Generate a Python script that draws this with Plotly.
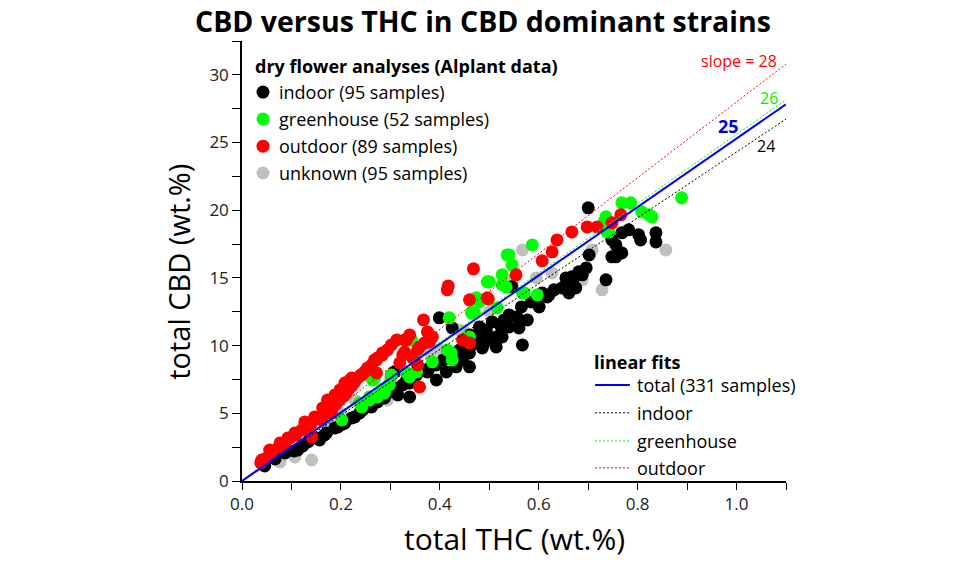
import plotly.graph_objects as go

# ---------------- data ----------------
outdoor_thc = [0.038,0.040,0.050,0.056,0.060,0.075,0.077,0.087,0.093,0.097,0.107,0.109,0.121,0.127,0.127,0.139,0.141,0.147,0.149,0.161,0.161,0.163,0.169,0.173,0.175,0.181,0.183,0.188,0.190,0.198,0.198,0.202,0.206,0.208,0.208,0.212,0.216,0.218,0.222,0.222,0.228,0.234,0.240,0.242,0.248,0.252,0.254,0.262,0.268,0.272,0.272,0.274,0.284,0.284,0.294,0.302,0.313,0.319,0.325,0.329,0.329,0.333,0.339,0.345,0.355,0.355,0.359,0.359,0.367,0.369,0.375,0.379,0.385,0.415,0.417,0.446,0.460,0.460,0.468,0.496,0.498,0.554,0.607,0.627,0.637,0.667,0.698,0.718,0.748,0.766]
outdoor_cbd = [1.33,1.55,1.70,2.29,2.14,2.51,2.81,2.81,3.18,3.18,3.55,3.40,3.77,4.36,3.92,4.14,3.25,4.73,4.58,4.80,4.51,5.40,4.95,5.99,5.25,5.03,5.40,6.36,5.69,6.73,5.99,6.73,6.28,7.24,7.10,6.58,6.80,7.46,7.61,7.02,7.32,7.61,7.83,7.83,8.06,8.20,8.35,8.57,8.94,8.94,7.98,9.09,9.46,9.31,9.68,10.05,10.42,8.72,9.31,10.42,9.53,10.42,10.79,9.09,9.68,8.57,9.90,6.95,11.90,10.20,11.01,10.27,10.64,14.12,14.41,10.42,10.20,13.38,15.67,13.53,13.45,15.23,16.26,16.93,17.81,18.40,18.77,18.77,19.07,19.66]

greenhouse_thc = [0.202,0.238,0.242,0.258,0.258,0.264,0.268,0.274,0.282,0.288,0.298,0.302,0.333,0.339,0.339,0.343,0.353,0.385,0.415,0.419,0.423,0.425,0.454,0.460,0.464,0.466,0.470,0.474,0.480,0.496,0.500,0.516,0.526,0.526,0.534,0.536,0.540,0.546,0.567,0.571,0.587,0.597,0.732,0.736,0.738,0.742,0.768,0.786,0.808,0.823,0.829,0.889]
greenhouse_cbd = [4.51,5.76,5.47,6.21,5.99,7.46,7.61,6.21,6.73,6.50,7.10,7.83,7.98,7.69,10.42,10.42,8.06,8.80,9.68,12.05,9.46,8.94,10.64,10.64,12.42,12.49,12.42,13.53,13.23,14.71,14.71,12.79,15.23,14.49,14.34,16.70,16.70,15.96,13.89,13.89,17.44,13.75,19.14,19.51,18.40,18.40,20.55,20.55,19.88,19.66,19.51,20.92]

indoor_thc = [0.046,0.067,0.087,0.105,0.113,0.123,0.133,0.135,0.151,0.157,0.167,0.171,0.188,0.194,0.204,0.208,0.222,0.228,0.238,0.244,0.250,0.252,0.262,0.262,0.264,0.274,0.278,0.288,0.294,0.298,0.302,0.308,0.315,0.315,0.325,0.333,0.339,0.339,0.353,0.369,0.375,0.379,0.393,0.393,0.399,0.407,0.413,0.419,0.425,0.431,0.433,0.440,0.446,0.452,0.460,0.460,0.460,0.464,0.466,0.472,0.480,0.480,0.486,0.490,0.494,0.494,0.506,0.510,0.514,0.514,0.524,0.526,0.530,0.540,0.540,0.546,0.556,0.560,0.565,0.567,0.577,0.585,0.593,0.601,0.607,0.617,0.621,0.631,0.647,0.655,0.657,0.661,0.667,0.671,0.675,0.681,0.688,0.696,0.702,0.700,0.736,0.748,0.748,0.756,0.756,0.762,0.768,0.768,0.782,0.802,0.806,0.837,0.837]
indoor_cbd = [1.11,1.63,2.07,2.22,2.29,2.59,2.88,2.96,3.18,3.03,3.40,3.55,3.92,3.99,4.21,4.29,4.66,4.73,5.03,5.25,5.54,5.47,5.91,5.47,5.76,5.84,6.13,6.13,6.87,6.58,7.83,8.06,6.87,6.36,7.10,7.46,7.24,6.21,7.83,8.13,8.06,8.35,8.57,7.46,12.05,8.94,8.06,9.16,11.31,9.46,8.43,9.68,8.94,9.83,10.79,9.46,8.43,10.05,10.20,10.42,11.38,10.94,9.83,10.20,11.16,10.64,11.75,10.42,10.64,9.90,11.38,10.64,11.90,12.27,11.38,14.34,12.12,11.31,12.86,10.05,11.90,13.23,13.23,12.86,13.89,13.60,13.75,14.12,14.26,15.00,14.71,13.89,15.08,15.00,14.26,15.45,15.23,15.74,16.70,20.18,14.86,17.81,16.56,17.44,16.56,16.93,18.33,16.85,18.55,18.18,17.81,18.33,17.66]

unknown_thc = [0.073,0.077,0.107,0.141,0.177,0.200,0.228,0.252,0.294,0.300,0.319,0.353,0.380,0.399,0.440,0.450,0.500,0.546,0.567,0.595,0.627,0.688,0.708,0.728,0.857]
unknown_cbd = [1.55,1.40,1.77,1.55,4.14,5.00,5.99,7.83,5.99,7.50,8.20,8.72,9.50,9.68,11.16,11.00,12.50,14.63,17.07,15.00,15.37,14.86,17.07,14.12,17.07]

fit_names = ["total", "indoor", "greenhouse", "outdoor"]
fit_slopes = [25.3, 24.3, 25.6, 28.0]
fit_x = [0.0, 1.1]

# ---------------- figure ----------------
fig = go.Figure()
msize = 13
groups = [
    ("unknown", unknown_thc, unknown_cbd, "#c0c0c0"),
    ("indoor", indoor_thc, indoor_cbd, "#000000"),
    ("greenhouse", greenhouse_thc, greenhouse_cbd, "#00ff00"),
    ("outdoor", outdoor_thc, outdoor_cbd, "#ff0000"),
]
for name, xs, ys, col in groups:
    fig.add_trace(go.Scatter(x=xs, y=ys, mode="markers", name=name,
                             marker=dict(size=msize, color=col, line=dict(width=0)),
                             showlegend=False, hoverinfo="x+y"))

fit_styles = {
    "total": dict(color="#0000ff", width=2, dash="solid"),
    "indoor": dict(color="#000000", width=1, dash="2px,2px"),
    "greenhouse": dict(color="#00ee00", width=1, dash="2px,2px"),
    "outdoor": dict(color="#ff0000", width=1, dash="2px,2px"),
}
for nm, s in zip(fit_names, fit_slopes):
    if nm == "total":
        continue
    fig.add_trace(go.Scatter(x=fit_x, y=[s * v for v in fit_x], mode="lines",
                             line=fit_styles[nm], showlegend=False, hoverinfo="skip"))
fig.add_trace(go.Scatter(x=fit_x, y=[fit_slopes[0] * v for v in fit_x], mode="lines",
                         line=fit_styles["total"], showlegend=False, hoverinfo="skip"))

FONT = "Open Sans"
ann = []
def A(text, x, y, size, xanchor="left", yanchor="middle", color="#000", bold=False,
      xref="paper", yref="paper", angle=0):
    ann.append(dict(text=("<b>%s</b>" % text) if bold else text, x=x, y=y,
                    xref=xref, yref=yref, xanchor=xanchor, yanchor=yanchor,
                    showarrow=False, textangle=angle,
                    font=dict(family=FONT, size=size, color=color)))

# title & axis titles
A("CBD versus THC in CBD dominant strains", 0.443, 1.093, 28.5, xanchor="center",
  yanchor="top", bold=True)
A("total THC (wt.%)", 0.50, -0.182, 30, xanchor="center", yanchor="bottom")
A("total CBD (wt.%)", -0.118, 0.475, 29, xanchor="center", angle=-90)

# data legend
A("dry flower analyses (Alplant data)", 0.0202, 0.943, 18, bold=True)
legend_labels = ["indoor (95 samples)", "greenhouse (52 samples)",
                 "outdoor (89 samples)", "unknown (95 samples)"]
legend_cols = ["#000000", "#00ff00", "#ff0000", "#c0c0c0"]
legend_y = [0.884, 0.823, 0.761, 0.700]
shapes = []
for lab, col, yy in zip(legend_labels, legend_cols, legend_y):
    A(lab, 0.064, yy, 18)
    shapes.append(dict(type="circle", xref="paper", yref="paper",
                       xsizemode="pixel", ysizemode="pixel",
                       xanchor=0.0386, yanchor=yy, x0=-6.5, x1=6.5, y0=-6.5, y1=6.5,
                       fillcolor=col, line=dict(width=0)))

# fit legend
A("linear fits", 0.643, 0.270, 18, bold=True)
fit_labels = ["total (331 samples)", "indoor", "greenhouse", "outdoor"]
fit_leg_y = [0.218, 0.155, 0.091, 0.030]
for nm, lab, yy in zip(fit_names, fit_labels, fit_leg_y):
    A(lab, 0.722, yy, 18)
    st = fit_styles[nm]
    shapes.append(dict(type="line", xref="paper", yref="paper", x0=0.649, x1=0.713,
                       y0=yy, y1=yy, line=dict(color=st["color"], width=st["width"],
                                               dash=st["dash"])))

# slope labels
A("slope = 28", 1.085, 31.0, 16, xanchor="right", color="#ff0000", xref="x", yref="y")
A("26", 1.065, 28.3, 16, xanchor="center", color="#00ee00", xref="x", yref="y")
A("25", 0.984, 26.2, 18, xanchor="center", color="#0000dd", bold=True, xref="x", yref="y")
A("24", 1.060, 24.75, 16, xanchor="center", color="#000000", xref="x", yref="y")

fig.update_layout(
    width=960, height=561,
    margin=dict(l=242, r=174, t=41, b=80),
    paper_bgcolor="white", plot_bgcolor="white",
    font=dict(family=FONT, size=16, color="#000"),
    annotations=ann, shapes=shapes,
    showlegend=False,
)
fig.update_xaxes(range=[0, 1.1], tickvals=[0, 0.2, 0.4, 0.6, 0.8, 1.0],
                 ticktext=["0.0", "0.2", "0.4", "0.6", "0.8", "1.0"],
                 ticks="outside", ticklen=7, tickwidth=1, tickcolor="#000",
                 minor=dict(tickvals=[0.1, 0.3, 0.5, 0.7, 0.9, 1.1], ticks="outside",
                            ticklen=7, tickwidth=1, tickcolor="#000"),
                 showline=True, linecolor="#000", linewidth=1.5, showgrid=False,
                 zeroline=False, tickfont=dict(size=17, color="#222"))
fig.update_yaxes(range=[0, 32.5], tickvals=[0, 5, 10, 15, 20, 25, 30],
                 ticks="outside", ticklen=8, tickwidth=1, tickcolor="#000",
                 minor=dict(tickvals=[2.5, 7.5, 12.5, 17.5, 22.5, 27.5, 32.5], ticks="outside",
                            ticklen=8, tickwidth=1, tickcolor="#000"),
                 showline=True, linecolor="#000", linewidth=1.5, showgrid=False,
                 zeroline=False, tickfont=dict(size=17, color="#222"))

fig.write_html("out.html")
